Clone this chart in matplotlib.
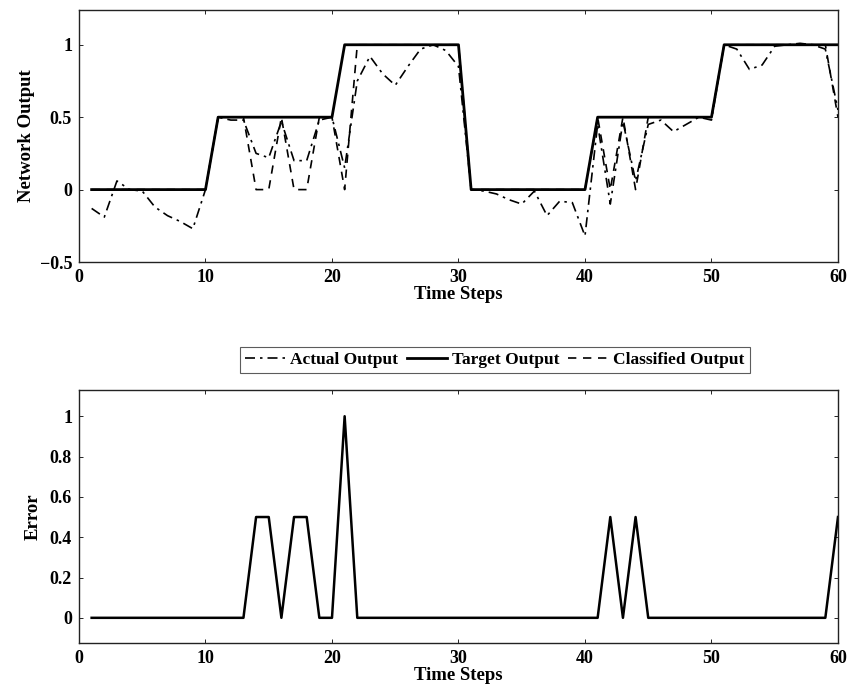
import numpy as np
import matplotlib
matplotlib.use("Agg")
import matplotlib.pyplot as plt

plt.rcParams['font.family'] = ['Liberation Serif', 'DejaVu Serif']
plt.rcParams['font.weight'] = 'bold'
plt.rcParams['axes.labelweight'] = 'bold'

# time steps 1..60
steps = np.arange(1, 61)

target = [0] * 10 + [0.5] * 10 + [1] * 10 + [0] * 10 + [0.5] * 10 + [1] * 10

actual = [
    -0.13, -0.19, 0.06, 0.0, -0.01, -0.12, -0.18, -0.22, -0.27, 0.0,
    0.5, 0.48, 0.48, 0.25, 0.22, 0.47, 0.2, 0.2, 0.48, 0.5,
    0.15, 0.75, 0.92, 0.8, 0.72, 0.85, 0.97, 1.0, 0.96, 0.85,
    0.0, -0.01, -0.03, -0.07, -0.1, -0.01, -0.18, -0.08, -0.09, -0.32,
    0.45, -0.1, 0.47, 0.06, 0.45, 0.48, 0.4, 0.45, 0.5, 0.48,
    1.0, 0.97, 0.83, 0.86, 0.99, 1.0, 1.01, 1.0, 0.97, 0.55,
]

classified = [
    0, 0, 0, 0, 0, 0, 0, 0, 0, 0,
    0.5, 0.5, 0.5, 0, 0, 0.5, 0, 0, 0.5, 0.5,
    0, 1, 1, 1, 1, 1, 1, 1, 1, 1,
    0, 0, 0, 0, 0, 0, 0, 0, 0, 0,
    0.5, 0, 0.5, 0, 0.5, 0.5, 0.5, 0.5, 0.5, 0.5,
    1, 1, 1, 1, 1, 1, 1, 1, 1, 0.5,
]

error = [
    0, 0, 0, 0, 0, 0, 0, 0, 0, 0,
    0, 0, 0, 0.5, 0.5, 0, 0.5, 0.5, 0, 0,
    1, 0, 0, 0, 0, 0, 0, 0, 0, 0,
    0, 0, 0, 0, 0, 0, 0, 0, 0, 0,
    0, 0.5, 0, 0.5, 0, 0, 0, 0, 0, 0,
    0, 0, 0, 0, 0, 0, 0, 0, 0, 0.5,
]

xticks = [0, 10, 20, 30, 40, 50, 60]
top_yticks = [-0.5, 0, 0.5, 1]
top_yticklabels = ["\u22120.5", "0", "0.5", "1"]
bot_yticks = [0, 0.2, 0.4, 0.6, 0.8, 1]
bot_yticklabels = ["0", "0.2", "0.4", "0.6", "0.8", "1"]


def style_axes(ax):
    ax.tick_params(direction='in', top=True, right=True, length=3,
                   width=0.6, labelsize=13, pad=5)
    for sp in ax.spines.values():
        sp.set_linewidth(1.0)
        sp.set_color('#222222')
    for lbl in ax.get_xticklabels() + ax.get_yticklabels():
        lbl.set_fontweight('bold')


fig = plt.figure(figsize=(8.53, 6.95), dpi=100)
ax1 = fig.add_axes([0.0926, 0.623, 0.8898, 0.3626])
ax2 = fig.add_axes([0.0926, 0.0748, 0.8898, 0.364])

l_act, = ax1.plot(steps, actual, color='black', lw=1.2, ls=(0, (6, 3, 1.5, 3)))
l_tgt, = ax1.plot(steps, target, color='black', lw=2.0, ls='-')
l_cls, = ax1.plot(steps, classified, color='black', lw=1.2, ls=(0, (5, 4)))
ax1.set_xlim(0, 60)
ax1.set_ylim(-0.5, 1.24)
ax1.set_xticks(xticks)
ax1.set_yticks(top_yticks)
ax1.set_yticklabels(top_yticklabels)
ax1.set_xlabel("Time Steps", fontsize=13.5, labelpad=0)
ax1.set_ylabel("Network Output", fontsize=13.5, labelpad=3)
style_axes(ax1)

ax2.plot(steps, error, color='black', lw=1.8)
ax2.set_xlim(0, 60)
ax2.set_ylim(-0.125, 1.13)
ax2.set_xticks(xticks)
ax2.set_yticks(bot_yticks)
ax2.set_yticklabels(bot_yticklabels)
ax2.set_xlabel("Time Steps", fontsize=13.5, labelpad=0)
ax2.set_ylabel("Error", fontsize=13.5, labelpad=6)
style_axes(ax2)

leg = fig.legend([l_act, l_tgt, l_cls],
                 ["Actual Output", "Target Output", "Classified Output"],
                 loc='center', bbox_to_anchor=(0.58, 0.482), ncol=3,
                 fontsize=12.5, frameon=True, fancybox=False,
                 handlelength=2.3, handletextpad=0.3, columnspacing=0.5,
                 borderpad=0.3, borderaxespad=0.0)
leg.get_frame().set_edgecolor('#333333')
leg.get_frame().set_linewidth(0.8)
for t in leg.get_texts():
    t.set_fontweight('bold')

fig.savefig("out.png", dpi=100)
